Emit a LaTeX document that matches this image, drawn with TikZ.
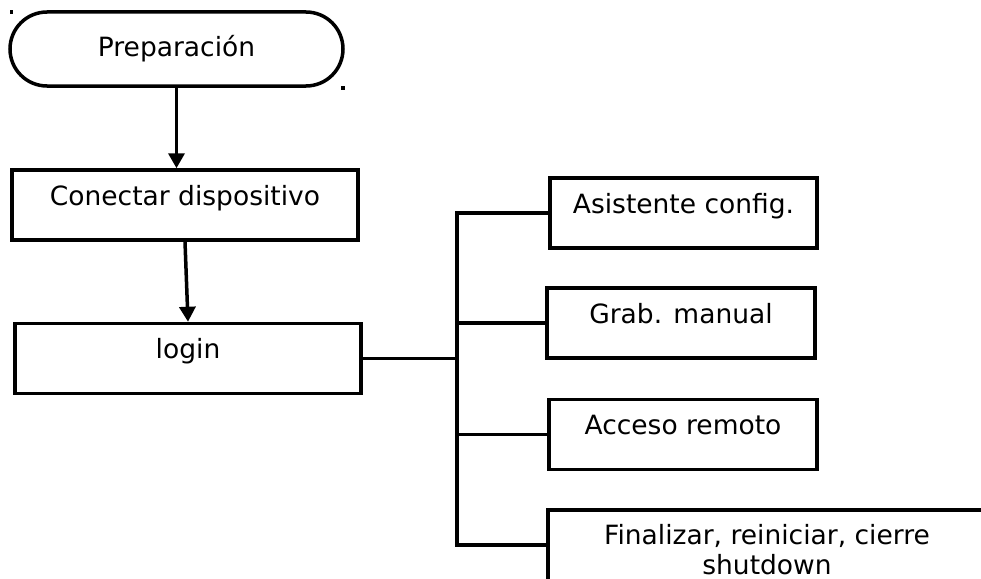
\documentclass[tikz,border=0pt]{standalone}
\usepackage{fontspec}
\setmainfont{DejaVu Sans}
\usetikzlibrary{arrows.meta,shapes.misc}

\begin{document}
\begin{tikzpicture}[x=1pt,y=-1pt,
  every node/.style={font=\fontsize{26.5}{30}\selectfont},
  box/.style={draw, line width=3.5pt, minimum height=70pt, inner sep=0pt, text height=0pt, text depth=0pt},
  startbox/.style={draw, line width=3.5pt, rounded rectangle, minimum width=333pt, minimum height=74pt, inner sep=0pt},
  link/.style={line width=3.5pt},
  flow/.style={link, -{Triangle[length=15pt,width=16pt]}}]
\useasboundingbox (0,0) rectangle (981,578);
\fill (9.5,10.5) rectangle ++(3.5,3.5);
\fill (341,86) rectangle ++(3.5,3.5);
\node[startbox] (prep) at (176.5,49) {Preparación};
\node[box, minimum width=346pt] (conn) at (185,205) {Conectar dispositivo};
\node[box, minimum width=346pt] (login) at (188,358.5) {login};
\node[box, minimum width=267pt] (asis) at (683.5,213) {Asistente config.};
\node[box, minimum width=268pt] (grab) at (681,323) {Grab. manual};
\node[box, minimum width=268pt] (acc) at (683,434.5) {Acceso remoto};
\node[box, minimum width=438pt, minimum height=80pt, align=center, text height=48pt] (fin) at (767,550) {Finalizar, reiniciar, cierre\\shutdown};
\coordinate (bus) at (457,545);
\draw[flow] (prep.south) -- (prep.south |- conn.north);
\draw[flow] (conn.south) -- (login.north);
\draw[link] (login.east) -- (login.east -| bus);
\draw[link] (asis.west) -| (bus) -- (bus -| fin.west);
\foreach \n in {grab,acc}{
  \draw[link] (\n.west) -- (\n.west -| bus);
}
\end{tikzpicture}
\end{document}
